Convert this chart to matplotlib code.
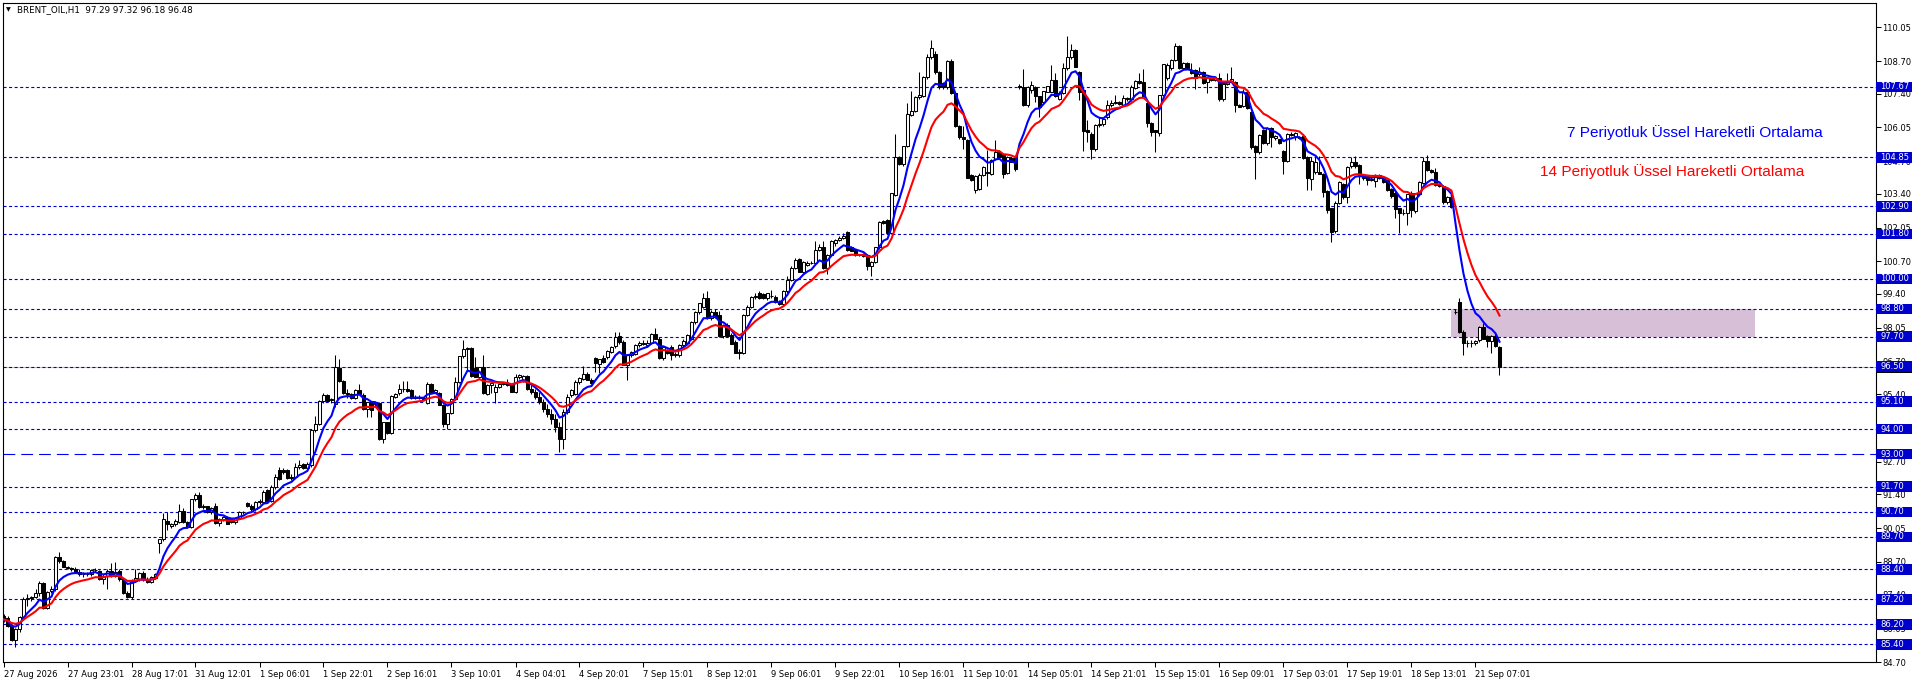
import numpy as np
import pandas as pd
import matplotlib
matplotlib.use("Agg")
import matplotlib.pyplot as plt
from matplotlib.patches import Rectangle
from matplotlib.transforms import blended_transform_factory

plt.rcParams['lines.scale_dashes'] = False

# ---------------- data ----------------
symbol_title = "BRENT_OIL,H1  97.29 97.32 96.18 96.48"

opens = [
    86.55, 86.45, 86.15, 85.58, 86.00, 86.50, 87.22, 87.25, 87.30, 87.45,
    87.85, 86.85, 87.55, 87.62, 88.90, 88.72, 88.50, 88.45, 88.42, 88.30,
    88.20, 88.22, 88.20, 88.36, 88.35, 88.00, 88.15, 88.35, 88.15, 88.35,
    88.00, 87.45, 87.28, 87.95, 88.00, 88.25, 88.02, 87.90, 88.05, 89.45,
    89.60, 90.35, 90.15, 90.20, 90.30, 90.75, 90.30, 90.10, 91.20, 91.35,
    90.90, 90.92, 90.68, 90.95, 90.25, 90.40, 90.50, 90.40, 90.30, 90.45,
    90.70, 91.05, 90.95, 90.80, 91.08, 91.10, 91.55, 91.15, 91.70, 92.35,
    92.38, 92.35, 92.05, 92.10, 92.50, 92.60, 92.45, 92.55, 93.98, 94.20,
    95.12, 95.35, 95.15, 94.99, 96.45, 95.93, 95.43, 95.40, 95.25, 95.56,
    95.38, 94.80, 95.08, 95.00, 95.03, 93.59, 94.27, 93.83, 95.30, 95.43,
    95.60, 95.62, 95.55, 95.23, 95.28, 95.25, 95.03, 95.80, 95.50, 95.43,
    94.97, 94.20, 94.63, 95.20, 95.90, 96.92, 97.22, 97.23, 96.43, 96.09,
    96.47, 95.40, 95.76, 95.50, 95.70, 95.80, 95.85, 95.76, 95.50, 96.07,
    95.98, 96.12, 95.60, 95.50, 95.30, 95.10, 94.80, 94.60, 94.40, 94.10,
    93.60, 94.70, 95.35, 95.40, 95.90, 96.00, 96.20, 95.98, 96.83, 96.60,
    96.85, 96.87, 97.10, 97.32, 97.72, 97.49, 96.56, 96.96, 97.00, 97.36,
    97.42, 97.36, 97.45, 97.82, 97.62, 96.83, 97.15, 97.29, 96.98, 96.96,
    97.36, 97.45, 97.60, 98.29, 98.69, 98.89, 99.22, 98.42, 98.69, 98.56,
    97.72, 98.16, 97.75, 97.49, 97.10, 97.06, 98.56, 98.89, 99.29, 99.45,
    99.40, 99.22, 99.32, 99.29, 99.09, 98.98, 99.50, 99.95, 100.45, 100.78,
    100.29, 100.55, 100.65, 100.65, 101.15, 101.26, 100.42, 100.95, 101.45, 101.55,
    101.62, 101.87, 101.28, 101.15, 100.95, 101.00, 100.95, 100.52, 100.69, 101.26,
    102.31, 102.35, 101.82, 103.35, 104.85, 104.59, 105.31, 106.54, 106.72, 107.28,
    107.30, 108.05, 108.87, 109.00, 108.27, 107.81, 107.65, 108.71, 107.41, 106.10,
    105.65, 105.55, 104.15, 103.55, 103.58, 104.15, 104.27, 104.21, 104.80, 105.08,
    104.99, 104.24, 104.81, 104.85, 107.70, 107.68, 106.94, 107.54, 107.68, 107.30,
    107.08, 107.48, 107.48, 107.94, 107.20, 107.44, 108.41, 108.85, 109.14, 108.27,
    107.54, 105.94, 105.79, 105.17, 106.14, 106.18, 106.48, 106.94, 107.01, 107.08,
    106.94, 107.21, 107.17, 107.61, 107.90, 107.86, 107.01, 106.21, 105.94, 105.81,
    107.34, 108.01, 108.41, 108.74, 109.30, 108.41, 108.63, 108.34, 108.34, 108.18,
    108.27, 107.88, 108.05, 107.95, 108.01, 107.17, 107.78, 107.88, 107.88, 106.94,
    106.90, 107.48, 106.68, 105.31, 105.08, 105.94, 105.41, 106.01, 105.61, 105.57,
    105.12, 104.72, 105.79, 105.70, 105.68, 105.70, 104.85, 104.01, 104.28, 104.28,
    104.21, 103.52, 102.82, 101.92, 103.04, 103.81, 103.28, 104.51, 104.68, 104.55,
    104.15, 104.10, 103.95, 103.92, 104.15, 104.05, 103.95, 103.61, 103.44, 102.82,
    102.62, 102.64, 103.44, 102.72, 103.41, 103.84, 104.72, 104.35, 104.28, 103.75,
    103.71, 103.08, 103.28, 98.66, 99.09, 97.89, 97.43, 97.43, 97.43, 97.55,
    98.09, 97.72, 97.53, 97.72, 97.29,
]

highs = [
    86.62, 86.55, 86.20, 86.05, 86.55, 87.30, 87.40, 87.35, 87.60, 87.95,
    87.88, 87.55, 87.75, 88.95, 89.10, 88.78, 88.55, 88.50, 88.50, 88.40,
    88.30, 88.30, 88.40, 88.45, 88.38, 88.20, 88.40, 88.65, 88.70, 88.40,
    88.05, 87.55, 88.00, 88.40, 88.30, 88.35, 88.10, 88.15, 88.25, 89.62,
    90.65, 90.70, 90.25, 90.40, 91.00, 90.85, 90.35, 91.20, 91.45, 91.50,
    91.00, 90.95, 90.90, 91.05, 90.45, 90.55, 90.55, 90.45, 90.50, 90.75,
    90.75, 91.10, 91.00, 91.12, 91.20, 91.55, 91.60, 91.75, 92.20, 92.50,
    92.45, 92.40, 92.20, 92.65, 92.75, 92.65, 92.70, 94.00, 94.52, 95.15,
    95.45, 95.40, 95.25, 96.95, 96.80, 95.95, 95.60, 95.45, 95.60, 95.80,
    95.45, 95.10, 95.12, 95.10, 95.10, 94.30, 94.30, 95.35, 95.45, 95.80,
    95.92, 95.92, 95.60, 95.35, 95.35, 95.30, 95.90, 95.85, 95.60, 95.50,
    95.00, 94.65, 95.24, 96.10, 96.92, 97.58, 97.27, 97.30, 96.90, 96.50,
    96.98, 95.80, 95.85, 95.80, 95.85, 95.90, 96.00, 95.80, 96.20, 96.22,
    96.15, 96.15, 95.75, 95.60, 95.50, 95.20, 95.00, 94.80, 94.60, 94.30,
    94.80, 95.40, 95.60, 95.95, 96.08, 96.53, 96.30, 96.05, 96.90, 96.82,
    96.95, 97.15, 97.32, 97.89, 97.89, 97.55, 97.00, 97.12, 97.40, 97.53,
    97.56, 97.56, 97.85, 98.02, 97.70, 97.30, 97.20, 97.35, 97.10, 97.40,
    97.60, 97.80, 98.30, 98.70, 99.05, 99.42, 99.50, 98.75, 98.80, 98.70,
    98.20, 98.25, 97.85, 97.55, 97.20, 98.60, 98.95, 99.30, 99.45, 99.50,
    99.45, 99.45, 99.55, 99.35, 99.15, 99.55, 100.10, 100.50, 100.85, 100.82,
    100.72, 100.70, 100.70, 101.53, 101.40, 101.53, 100.98, 101.55, 101.60, 101.70,
    101.85, 101.91, 101.30, 101.17, 101.00, 101.02, 100.98, 100.70, 101.28, 102.30,
    102.35, 102.40, 103.45, 105.79, 104.90, 105.32, 107.04, 107.52, 107.30, 108.27,
    108.10, 109.00, 109.54, 109.10, 108.30, 107.85, 108.75, 108.80, 107.45, 106.15,
    106.10, 105.60, 104.20, 104.15, 104.25, 104.50, 105.15, 104.80, 105.55, 105.15,
    105.00, 104.90, 104.85, 104.88, 107.80, 108.40, 107.70, 107.90, 107.70, 107.32,
    107.50, 107.72, 108.54, 108.24, 107.50, 108.63, 109.70, 109.38, 109.20, 108.30,
    107.60, 106.35, 105.85, 106.20, 106.48, 106.40, 107.14, 107.14, 107.34, 107.10,
    107.34, 107.25, 107.74, 107.93, 108.21, 108.37, 107.05, 106.25, 105.96, 107.34,
    108.57, 108.63, 108.80, 109.41, 109.35, 108.65, 108.65, 108.63, 108.40, 108.47,
    108.30, 108.05, 108.10, 108.08, 108.21, 107.80, 108.21, 108.45, 107.90, 107.00,
    107.60, 107.50, 106.70, 105.35, 105.80, 106.00, 106.05, 106.05, 105.75, 105.60,
    105.15, 105.84, 105.85, 105.88, 105.72, 105.75, 104.90, 104.85, 104.88, 104.91,
    104.25, 103.55, 102.85, 103.10, 103.90, 103.85, 104.50, 104.88, 104.91, 104.60,
    104.20, 104.12, 104.10, 104.20, 104.20, 104.10, 104.00, 103.65, 103.50, 102.85,
    102.80, 103.41, 103.50, 103.45, 103.90, 104.88, 104.95, 104.40, 104.45, 103.78,
    103.75, 103.30, 103.30, 98.80, 99.22, 97.95, 97.58, 97.58, 97.55, 98.10,
    98.22, 97.75, 97.75, 97.83, 97.32,
]

lows = [
    86.30, 86.10, 85.55, 85.30, 85.90, 86.40, 86.95, 87.15, 87.25, 87.35,
    86.80, 86.80, 87.45, 87.55, 88.65, 88.48, 88.40, 88.35, 88.25, 88.15,
    88.10, 88.15, 88.15, 88.30, 87.98, 87.80, 87.60, 88.10, 88.10, 87.95,
    87.40, 87.25, 87.20, 87.90, 87.95, 87.95, 87.85, 87.85, 88.00, 89.05,
    89.55, 89.98, 90.05, 90.15, 90.25, 90.25, 90.05, 90.05, 91.15, 90.85,
    90.80, 90.65, 90.60, 90.20, 90.15, 90.35, 90.20, 90.25, 90.20, 90.40,
    90.60, 90.90, 90.75, 90.75, 91.00, 91.05, 91.10, 91.10, 91.60, 91.95,
    92.20, 92.00, 91.95, 92.05, 92.40, 92.40, 92.40, 92.50, 93.90, 94.15,
    95.05, 95.10, 95.05, 94.90, 95.90, 95.40, 95.25, 95.22, 95.20, 95.40,
    94.78, 94.50, 94.50, 94.90, 93.55, 93.45, 93.80, 93.80, 95.25, 95.38,
    95.50, 95.50, 95.20, 95.20, 95.20, 95.15, 95.00, 95.45, 95.45, 94.95,
    94.10, 93.99, 94.60, 95.15, 95.85, 96.85, 96.35, 96.10, 96.08, 96.00,
    95.40, 95.35, 95.45, 95.03, 95.65, 95.75, 95.72, 95.48, 95.45, 96.00,
    95.90, 95.55, 95.40, 95.20, 95.00, 94.70, 94.50, 94.20, 93.90, 93.10,
    93.20, 94.60, 95.30, 95.35, 95.80, 95.95, 95.95, 95.80, 96.30, 96.23,
    96.65, 96.82, 97.05, 97.25, 97.40, 96.55, 95.95, 96.90, 96.95, 97.30,
    97.38, 97.30, 97.40, 97.60, 96.80, 96.78, 97.00, 96.75, 96.90, 96.90,
    97.30, 97.40, 97.55, 98.20, 98.60, 98.85, 98.40, 98.35, 98.45, 97.70,
    97.65, 97.70, 97.40, 97.03, 96.80, 97.00, 98.50, 98.85, 99.20, 99.20,
    99.20, 99.15, 99.25, 99.05, 98.95, 98.90, 99.45, 99.90, 100.40, 100.30,
    100.25, 100.50, 100.58, 100.60, 101.10, 100.40, 100.20, 100.90, 101.30, 101.50,
    101.60, 101.10, 101.10, 100.90, 100.90, 100.88, 100.35, 100.12, 100.65, 101.20,
    102.20, 101.80, 101.80, 103.30, 104.55, 104.50, 105.25, 106.50, 106.65, 107.20,
    107.25, 108.00, 108.80, 108.20, 107.60, 107.60, 107.60, 107.38, 106.05, 105.60,
    105.20, 104.05, 103.90, 103.45, 103.55, 104.10, 103.70, 104.15, 104.75, 104.85,
    104.05, 104.20, 104.65, 104.30, 107.60, 106.90, 106.85, 107.44, 107.08, 106.48,
    107.00, 107.45, 107.45, 107.28, 107.15, 107.40, 108.35, 108.80, 108.45, 107.15,
    105.12, 105.48, 104.77, 105.10, 106.05, 106.10, 106.40, 106.85, 106.98, 106.95,
    106.90, 107.10, 107.10, 107.58, 107.80, 107.25, 106.08, 105.71, 105.08, 105.70,
    107.30, 107.95, 108.35, 108.70, 108.40, 108.35, 108.40, 108.20, 107.57, 108.10,
    107.80, 107.44, 107.90, 107.90, 107.10, 107.10, 107.75, 107.85, 106.68, 106.85,
    106.85, 106.80, 105.20, 104.01, 105.00, 105.40, 105.35, 105.28, 105.55, 105.40,
    104.18, 104.65, 105.70, 105.55, 105.60, 104.80, 103.55, 103.57, 104.20, 104.20,
    103.28, 102.62, 101.49, 101.85, 103.00, 103.20, 103.04, 104.45, 104.45, 103.79,
    103.95, 103.75, 103.90, 103.68, 104.00, 103.85, 103.50, 103.25, 102.42, 101.84,
    102.55, 102.15, 102.48, 102.65, 103.35, 103.80, 104.30, 104.25, 103.70, 103.68,
    103.00, 103.00, 102.85, 98.60, 97.85, 96.96, 97.28, 97.28, 97.35, 97.50,
    97.60, 97.30, 97.05, 97.30, 96.18,
]

closes = [
    86.40, 86.12, 85.58, 86.02, 86.50, 87.22, 87.25, 87.28, 87.45, 87.85,
    86.85, 87.50, 87.62, 88.90, 88.72, 88.50, 88.45, 88.40, 88.30, 88.20,
    88.22, 88.20, 88.36, 88.38, 88.00, 88.15, 88.35, 88.15, 88.30, 88.00,
    87.45, 87.28, 87.95, 88.05, 88.25, 88.00, 87.90, 88.08, 88.20, 89.60,
    90.40, 90.20, 90.20, 90.35, 90.75, 90.30, 90.10, 91.20, 91.35, 90.90,
    90.92, 90.68, 90.87, 90.25, 90.40, 90.50, 90.22, 90.30, 90.45, 90.70,
    90.68, 90.95, 90.80, 91.08, 91.12, 91.50, 91.12, 91.70, 92.10, 92.00,
    92.27, 92.05, 92.10, 92.50, 92.55, 92.45, 92.62, 93.98, 94.20, 95.12,
    95.35, 95.12, 95.20, 96.49, 95.93, 95.43, 95.40, 95.25, 95.56, 95.42,
    94.80, 95.08, 94.76, 95.05, 93.59, 94.27, 93.83, 95.32, 95.40, 95.60,
    95.62, 95.53, 95.23, 95.28, 95.26, 95.22, 95.80, 95.50, 95.55, 94.97,
    94.20, 94.63, 95.22, 95.90, 96.92, 97.19, 97.25, 96.12, 96.09, 96.47,
    95.43, 95.76, 95.83, 95.70, 95.80, 95.83, 95.76, 95.50, 96.07, 96.15,
    96.12, 95.60, 95.50, 95.30, 95.10, 94.80, 94.60, 94.40, 94.10, 93.60,
    94.70, 95.30, 95.55, 95.90, 96.03, 96.20, 95.98, 95.83, 96.66, 96.80,
    96.70, 97.12, 97.30, 97.69, 97.49, 96.56, 96.95, 97.09, 97.36, 97.45,
    97.42, 97.45, 97.82, 97.62, 96.83, 97.29, 97.03, 96.96, 97.00, 97.36,
    97.52, 97.75, 98.29, 98.69, 99.02, 99.22, 98.42, 98.69, 98.49, 97.72,
    98.16, 97.72, 97.42, 97.06, 97.06, 98.56, 98.89, 99.29, 99.31, 99.22,
    99.22, 99.42, 99.30, 99.09, 98.98, 99.52, 99.95, 100.45, 100.75, 100.29,
    100.69, 100.65, 100.62, 101.15, 101.26, 100.42, 100.95, 101.52, 101.55, 101.62,
    101.71, 101.15, 101.13, 100.95, 100.97, 100.91, 100.52, 100.69, 101.26, 102.28,
    102.22, 101.82, 103.44, 104.85, 104.59, 105.31, 106.58, 106.72, 107.25, 107.34,
    108.05, 108.85, 109.21, 108.27, 107.65, 107.65, 108.71, 107.41, 106.10, 105.65,
    105.57, 104.05, 103.95, 104.11, 104.15, 104.48, 104.22, 104.75, 105.08, 104.88,
    104.21, 104.88, 104.68, 104.41, 107.68, 106.94, 107.68, 107.74, 107.30, 106.85,
    107.50, 107.70, 107.94, 107.30, 107.44, 108.41, 108.85, 109.14, 108.47, 107.48,
    105.92, 105.88, 105.17, 106.14, 106.18, 106.37, 106.94, 107.01, 107.08, 106.98,
    107.21, 107.17, 107.65, 107.90, 107.81, 107.28, 106.21, 105.88, 105.88, 107.34,
    108.57, 108.54, 108.74, 109.30, 108.41, 108.63, 108.41, 108.24, 108.01, 108.27,
    107.84, 108.01, 107.94, 108.01, 107.17, 107.78, 107.88, 108.00, 106.94, 106.88,
    107.48, 106.81, 105.25, 105.08, 105.75, 105.44, 106.01, 105.65, 105.70, 105.44,
    104.72, 105.79, 105.74, 105.82, 105.64, 104.81, 104.05, 104.72, 104.68, 104.21,
    103.48, 102.75, 101.88, 103.04, 103.88, 103.28, 104.48, 104.68, 104.51, 104.15,
    104.05, 103.95, 104.00, 104.15, 104.05, 103.88, 103.55, 103.31, 102.78, 102.62,
    102.64, 103.41, 102.75, 103.44, 103.88, 104.72, 104.35, 104.28, 103.75, 103.71,
    103.08, 103.28, 102.88, 98.68, 97.89, 97.43, 97.45, 97.45, 97.52, 98.09,
    97.62, 97.53, 97.72, 97.32, 96.48,
]

date_labels = [
    "27 Aug 2026", "27 Aug 23:01", "28 Aug 17:01", "31 Aug 12:01", "1 Sep 06:01",
    "1 Sep 22:01", "2 Sep 16:01", "3 Sep 10:01", "4 Sep 04:01", "4 Sep 20:01",
    "7 Sep 15:01", "8 Sep 12:01", "9 Sep 06:01", "9 Sep 22:01", "10 Sep 16:01",
    "11 Sep 10:01", "14 Sep 05:01", "14 Sep 21:01", "15 Sep 15:01", "16 Sep 09:01",
    "17 Sep 03:01", "17 Sep 19:01", "18 Sep 13:01", "21 Sep 07:01",
]
bars_per_label = 16

level_lines = [107.67, 104.85, 102.90, 101.80, 100.00, 98.80, 97.70, 96.50,
               95.10, 94.00, 91.70, 90.70, 89.70, 88.40, 87.20, 86.20, 85.40]
main_level = 93.00
bid_price = 96.48

price_ticks = [110.05, 108.70, 107.40, 106.05, 104.70, 103.40, 102.05, 100.70,
               99.40, 98.05, 96.70, 95.40, 92.70, 91.40, 90.05, 88.70,
               87.40, 86.05, 84.70]

zone_low, zone_high = 97.70, 98.80
zone_start_bar, zone_end_bar = 362, 438

ema_fast, ema_slow = 7, 14
legend_fast = "7 Periyotluk Üssel Hareketli Ortalama"
legend_slow = "14 Periyotluk Üssel Hareketli Ortalama"

# ---------------- figure ----------------
W, H, DPI = 1916, 685, 100
fig = plt.figure(figsize=(W / DPI, H / DPI), dpi=DPI)
fig.patch.set_facecolor("white")

AX_L, AX_R, AX_T, AX_B = 2.5, 1875.5, 2.5, 662.0
ax = fig.add_axes([AX_L / W, 1 - AX_B / H, (AX_R - AX_L) / W, (AX_B - AX_T) / H])
PX_PER_BAR, FIRST_X = 4.0, 3.5
ax.set_xlim((AX_L - FIRST_X) / PX_PER_BAR, (AX_R - FIRST_X) / PX_PER_BAR)
ax.set_ylim(84.70, 111.04)
ax.set_facecolor("white")
for s in ax.spines.values():
    s.set_color("black")
    s.set_linewidth(0.8)

o = np.array(opens); h = np.array(highs); l = np.array(lows); c = np.array(closes)
idx = np.arange(len(c))

# zone
ax.add_patch(Rectangle((zone_start_bar, zone_low), zone_end_bar - zone_start_bar,
                       zone_high - zone_low, facecolor="#D8BFD8", edgecolor="none", zorder=1))

# horizontal levels
ax.axhline(bid_price, color="#C0C0C0", lw=0.75, zorder=1.5)
for lv in level_lines:
    ax.axhline(lv, color="#0000CD", lw=0.8, dashes=(2.2, 1.8), zorder=2)
ax.axhline(main_level, color="#0000FF", lw=0.8, dashes=(8.5, 4.3), zorder=2)

# candles
ax.vlines(idx, l, h, colors="black", linewidth=0.75, zorder=3)
up = c >= o
body_bottom = np.minimum(o, c)
body_h = np.maximum(np.abs(c - o), 0.02)
ax.bar(idx, body_h, bottom=body_bottom, width=0.58,
       color=np.where(up, "white", "black"), edgecolor="black", linewidth=0.75, zorder=4)

# EMAs
cs = pd.Series(c)
ax.plot(idx, cs.ewm(span=ema_fast, adjust=False).mean(), color="#0000FF", lw=1.5, zorder=5)
ax.plot(idx, cs.ewm(span=ema_slow, adjust=False).mean(), color="#FF0000", lw=1.5, zorder=5.1)

# axes ticks
ax.yaxis.tick_right()
ax.set_yticks(price_ticks)
ax.set_yticklabels([f"{v:.2f}" for v in price_ticks])
ax.tick_params(axis="y", length=3.5, width=0.75, pad=1.5, labelsize=6, colors="black")
ax.set_xticks(np.arange(len(date_labels)) * bars_per_label)
ax.set_xticklabels(date_labels, ha="left")
ax.tick_params(axis="x", length=3.5, width=0.75, pad=2.5, labelsize=6, colors="black")

# price label boxes
trans = blended_transform_factory(ax.transAxes, ax.transData)
ax_w_px = AX_R - AX_L
ppu = (AX_B - AX_T) / (111.04 - 84.70)
box_w = 36 / ax_w_px
box_h = 10.5 / ppu
ax.add_patch(Rectangle((1.0, bid_price - box_h / 2 - 0.5 / ppu), box_w, box_h, transform=trans,
                       facecolor="black", edgecolor="none", clip_on=False, zorder=6))
for lv in sorted(level_lines + [main_level]):
    ax.add_patch(Rectangle((1.0, lv - box_h / 2), box_w, box_h, transform=trans,
                           facecolor="#0000CD", edgecolor="none", clip_on=False, zorder=6.5))
    ax.text(1.0 + 5 / ax_w_px, lv, f"{lv:.2f}", transform=trans, color="white",
            fontsize=6, va="center", ha="left", zorder=7, clip_on=False)

# header
fig.text(6 / W, 1 - 10 / H, "\u25BC", fontsize=4.5, va="center", ha="left", color="black")
fig.text(17 / W, 1 - 10 / H, symbol_title, fontsize=6.3, va="center", ha="left", color="black")

# legend texts
fig.text(1567 / W, 1 - 133 / H, legend_fast, fontsize=11.1, family="Liberation Sans",
         color="#0000FF", va="center", ha="left")
fig.text(1540 / W, 1 - 172 / H, legend_slow, fontsize=11.1, family="Liberation Sans",
         color="#FF0000", va="center", ha="left")

fig.savefig("out.png", dpi=DPI, facecolor="white")
